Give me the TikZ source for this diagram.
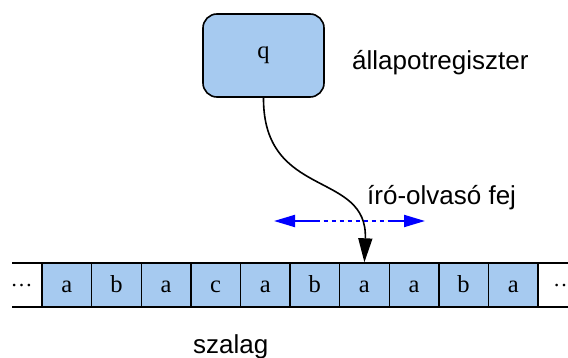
\documentclass[tikz,border=0pt]{standalone}
\usepackage{fontspec}
\setmainfont{Liberation Serif}
\newfontfamily\labelfont{Liberation Sans}
\usetikzlibrary{arrows.meta}
\definecolor{cellblue}{RGB}{166,202,240}
\begin{document}
\begin{tikzpicture}[x=1pt,y=-1pt,
  cell/.style={draw=black, line width=1.4pt, fill=cellblue, minimum width=49.6pt,
    minimum height=44pt, inner sep=0pt, text height=16pt, text depth=1pt,
    font=\fontsize{24.5}{26}\selectfont},
  statebox/.style={draw=black, line width=1.6pt, fill=cellblue, rounded corners=14pt,
    minimum width=121pt, minimum height=83pt, inner sep=0pt,
    font=\fontsize{24.5}{26}\selectfont},
  lbl/.style={font=\labelfont\fontsize{26}{30}\selectfont, inner sep=0pt, anchor=base west},
  dots/.style={font=\fontsize{22}{24}\selectfont, inner sep=0pt, anchor=base},
  tapeline/.style={line width=2.4pt, draw=black},
  headarrow/.style={line width=1.6pt, -{Triangle[length=24pt,width=14pt]}},
  movearrow/.style={blue, line width=2pt,
    {Triangle[length=21pt,width=12pt]}-{Triangle[length=21pt,width=12pt]},
    dash pattern=on 25pt off 4pt on 4pt off 4pt on 4pt off 4pt on 4pt off 4pt on 4pt off 4pt
      on 4pt off 4pt on 4pt off 4pt on 4pt off 4pt on 4pt off 4pt on 40pt off 300pt}
]
\useasboundingbox (0,0) rectangle (568,358);

% tape cells
\foreach \t [count=\k from 0] in {a,b,a,c,a,b,a,a,b,a}{
  \node[cell] (c\k) at ({42+49.6*(\k+0.5)},285) {\t};
}
% tape borders
\coordinate (tl) at (12,263);
\coordinate (tr) at (568,263);
\coordinate (bl) at (12,307);
\coordinate (br) at (568,307);
\draw[tapeline] (tl) -- (tr);
\draw[tapeline] (bl) -- (br);
\node[dots] (ldots) at (21.5,287) {…};
\node[dots] (rdots) at (564,287) {…};

% state register
\node[statebox] (q) at (263.5,55.5) {q};
\node[lbl] (statelbl) at (352,70) {állapotregiszter};

% head
\draw[headarrow] (q.south) .. controls (263,200) and (368,170) .. (c6.north);

% head movement
\coordinate (ml) at (274,221);
\coordinate (mr) at (425,221);
\draw[movearrow] (ml) -- (mr);
\node[lbl] (headlbl) at (367,205) {író-olvasó fej};

\node[lbl] (tapelbl) at (193,353) {szalag};
\end{tikzpicture}
\end{document}
